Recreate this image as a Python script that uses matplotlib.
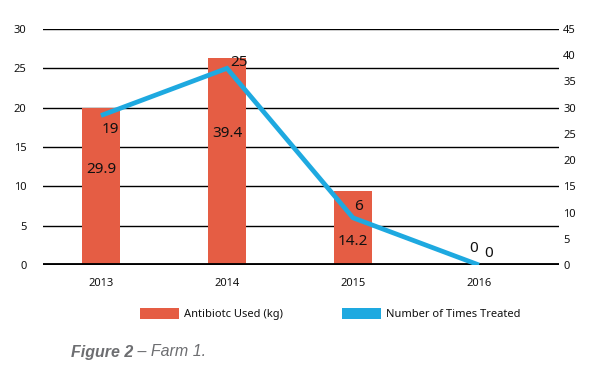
import matplotlib
matplotlib.use("Agg")
import matplotlib.pyplot as plt
from matplotlib.patches import Patch

# ---- data ----
years = ["2013", "2014", "2015", "2016"]
antibiotic_kg = [29.9, 39.4, 14.2, 0]          # bars, right axis
times_treated = [19, 25, 6, 0]                 # line, left axis
left_ticks = [0, 5, 10, 15, 20, 25, 30]
right_ticks = [0, 5, 10, 15, 20, 25, 30, 35, 40, 45]
series_names = ["Antibiotc Used (kg)", "Number of Times Treated"]
caption_bold = "Figure 2"
caption_rest = " \u2013 Farm 1."

# ---- style ----
ORANGE = "#E55D44"
BLUE = "#1EA9E0"
TXT = "#111111"
FONT = "Noto Sans"
# label offsets in points (style only)
bar_lbl_off = [(0, -44), (0, -54), (0, -37), (-4, 12)]
line_lbl_off = [(7, -10), (9, 4), (4, 8), (7, 8)]

plt.rcParams["font.family"] = [FONT, "DejaVu Sans"]

fig = plt.figure(figsize=(5.89, 3.66), dpi=100)
ax = fig.add_axes([43 / 589, 1 - 265 / 366, 516 / 589, 236 / 366])
x = list(range(len(years)))

# base axis: left ticks + gridlines
ax.set_ylim(0, 30)
ax.set_xlim(-0.46, 3.635)
ax.set_yticks(left_ticks)
ax.set_yticklabels([str(t) for t in left_ticks], fontsize=8, color=TXT)
ax.yaxis.grid(True, color="black", linewidth=1.0)
ax.set_axisbelow(True)
ax.set_xticks(x)
ax.set_xticklabels(years, fontsize=8, color=TXT)
ax.tick_params(axis="both", length=0)
ax.tick_params(axis="y", pad=12)
ax.tick_params(axis="x", pad=9)
for s in ax.spines.values():
    s.set_visible(False)

# bars on right axis
axb = ax.twinx()
axb.set_ylim(0, 45)
axb.set_yticks(right_ticks)
axb.set_yticklabels([str(t) for t in right_ticks], fontsize=8, color=TXT)
axb.tick_params(axis="y", length=0, pad=3)
for s in axb.spines.values():
    s.set_visible(False)
bars = axb.bar(x, antibiotic_kg, width=0.30, color=ORANGE, zorder=2)
for xi, v, off in zip(x, antibiotic_kg, bar_lbl_off):
    axb.annotate(f"{v:g}", (xi, v), xytext=off, textcoords="offset points",
                 ha="center", va="center", fontsize=11, color=TXT, zorder=5)

# line on a third overlay, same scale as left axis
axl = ax.twinx()
axl.set_ylim(0, 30)
axl.set_yticks([])
for s in axl.spines.values():
    s.set_visible(False)
axl.axhline(0, color="black", linewidth=3.5, zorder=3)
axl.plot(x, times_treated, color=BLUE, linewidth=3.4, solid_capstyle="butt",
         solid_joinstyle="miter", zorder=4)
for xi, v, off in zip(x, times_treated, line_lbl_off):
    axl.annotate(f"{v:g}", (xi, v), xytext=off, textcoords="offset points",
                 ha="center", va="center", fontsize=11, color=TXT, zorder=5)
axl.set_xlim(ax.get_xlim())
axb.set_xlim(ax.get_xlim())

# legend
handles = [Patch(facecolor=ORANGE, edgecolor="none"),
           Patch(facecolor=BLUE, edgecolor="none")]
fig.legend(handles, series_names, loc="center", bbox_to_anchor=(0.561, 0.142),
           ncol=2, frameon=False, fontsize=8, handlelength=3.5,
           handleheight=1.08, handletextpad=0.45, columnspacing=5.3,
           labelcolor=TXT)

# caption
t1 = fig.text(71 / 589, 1 - 352 / 366, caption_bold, fontsize=11.5,
              family="Liberation Sans", fontweight="bold", style="italic",
              color="#6D6E71", va="center", ha="left")
fig.canvas.draw()
bb = t1.get_window_extent()
fig.text(bb.x1 / fig.bbox.width, 1 - 352 / 366, caption_rest, fontsize=11.5,
         family="Liberation Sans", style="italic", color="#6D6E71",
         va="center", ha="left")

fig.savefig("out.png", dpi=100)
